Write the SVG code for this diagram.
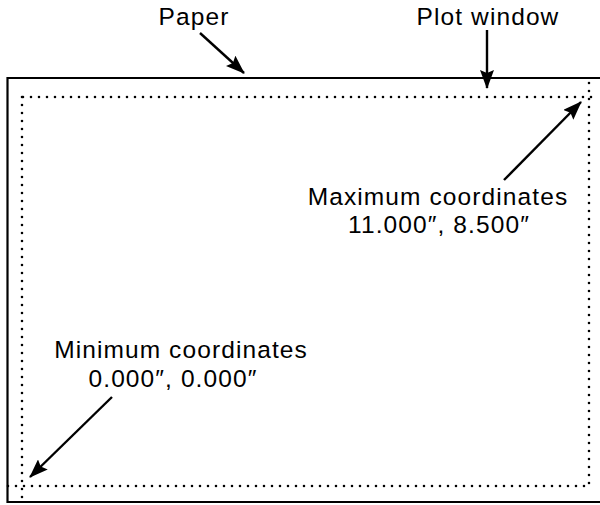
<svg xmlns="http://www.w3.org/2000/svg" width="600" height="505" viewBox="0 0 600 505">
<style>
text{font-family:"Liberation Sans",Arial,sans-serif;font-size:24.5px;fill:#000;letter-spacing:1.1px}
.paper{fill:none;stroke:#000;stroke-width:2.2}
.dots{fill:none;stroke:#000;stroke-width:2.6;stroke-linecap:round;stroke-dasharray:0 8}
.arr{fill:none;stroke:#000;stroke-width:2.4;marker-end:url(#ah)}
</style>
<defs>
<marker id="ah" viewBox="0 0 19 14" refX="18" refY="7" markerWidth="19" markerHeight="14" markerUnits="userSpaceOnUse" orient="auto">
<path d="M0,0 L19,7 L0,14 L3,7 Z" fill="#000"/>
</marker>
</defs>
<rect width="600" height="505" fill="#fff"/>
<g id="paper">
<path class="paper" d="M602,78 H7.5 V502 H602"/>
</g>
<g id="plot-window">
<path class="dots" d="M23,97 H596"/>
<path class="dots" d="M589,83 V486"/>
<path class="dots" d="M8,486 H589"/>
<path class="dots" d="M22,97 V499"/>
</g>
<g id="label-paper"><text x="194" y="25" text-anchor="middle">Paper</text></g>
<g id="label-plot"><text x="488" y="25" text-anchor="middle">Plot window</text></g>
<g id="label-max">
<text x="438" y="205" text-anchor="middle">Maximum coordinates</text>
<text x="439" y="233" text-anchor="middle">11.000″, 8.500″</text>
</g>
<g id="label-min">
<text x="181" y="358" text-anchor="middle">Minimum coordinates</text>
<text x="173" y="387" text-anchor="middle">0.000″, 0.000″</text>
</g>
<g id="connectors">
<line class="arr" x1="200" y1="33" x2="244" y2="73"/>
<line class="arr" x1="487" y1="30" x2="487" y2="88"/>
<line class="arr" x1="504" y1="180" x2="581" y2="102"/>
<line class="arr" x1="112" y1="397" x2="30" y2="477"/>
</g>
</svg>
